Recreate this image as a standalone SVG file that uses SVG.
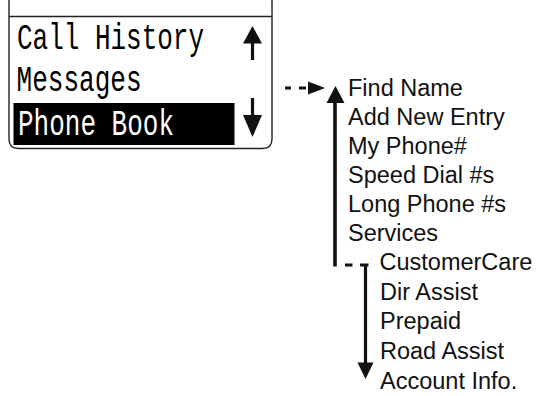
<svg xmlns="http://www.w3.org/2000/svg" width="536" height="396" viewBox="0 0 536 396">
<style>
.mono{font-family:"Liberation Mono","Courier New",monospace;font-size:36px;fill:#000}
.inv{fill:#fff}
.sans{font-family:"Liberation Sans",Arial,Helvetica,sans-serif;font-size:23.5px;fill:#111}
.frame{fill:none;stroke:#222;stroke-width:1.4}
.ln{stroke:#111;stroke-width:3.2;fill:none}
.hd{fill:#111}
</style>
<rect width="536" height="396" fill="#fff"/>
<g id="screen">
<path class="frame" d="M9,0 V139 Q9,148.5 18.5,148.5 H262.5 Q272,148.5 272,139 V0"/>
<path class="frame" d="M9,16.5 H272"/>
<text class="mono" x="17" y="48.5" textLength="187" lengthAdjust="spacingAndGlyphs">Call History</text>
<text class="mono" x="16.5" y="91" textLength="125" lengthAdjust="spacingAndGlyphs">Messages</text>
<rect x="13.5" y="103" width="221" height="42" fill="#000"/>
<text class="mono inv" x="18" y="135" textLength="156" lengthAdjust="spacingAndGlyphs">Phone Book</text>
<path class="ln" d="M252.5,42 V60"/>
<polygon class="hd" points="252.5,26 262,43.5 243,43.5"/>
<path class="ln" d="M252.5,98 V116"/>
<polygon class="hd" points="252.5,137 262,115 243,115"/>
</g>
<g id="phonebook-menu">
<text class="sans" x="348" y="96">Find Name</text>
<text class="sans" x="348" y="125">Add New Entry</text>
<text class="sans" x="348" y="154">My Phone#</text>
<text class="sans" x="348" y="183">Speed Dial #s</text>
<text class="sans" x="348" y="212">Long Phone #s</text>
<text class="sans" x="348" y="241">Services</text>
</g>
<g id="services-menu">
<text class="sans" x="379.5" y="270">CustomerCare</text>
<text class="sans" x="380" y="299.5">Dir Assist</text>
<text class="sans" x="380" y="329">Prepaid</text>
<text class="sans" x="380" y="358.5">Road Assist</text>
<text class="sans" x="380" y="388.5">Account Info.</text>
</g>
<g id="connectors">
<path class="ln" d="M285,88 H291 M299,88 H306"/>
<polygon class="hd" points="308,81.5 325,88 308,94.5"/>
<path class="ln" d="M335,266.5 V101" style="stroke-width:3.6"/>
<polygon class="hd" points="335.5,86 344.5,103 326.5,103"/>
<path class="ln" d="M345,265 H352.5 M360,265 H368.5"/>
<path class="ln" d="M365.5,265 V364"/>
<polygon class="hd" points="365.5,379 373.5,362.5 357.5,362.5"/>
</g>
</svg>
